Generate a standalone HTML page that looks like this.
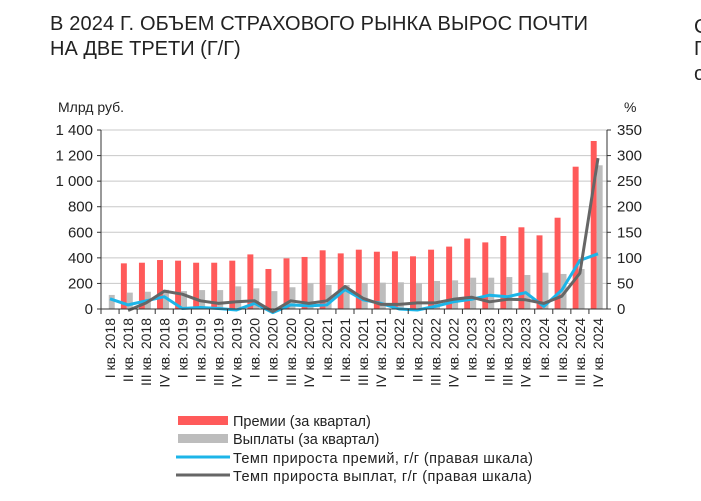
<!DOCTYPE html>
<html><head><meta charset="utf-8">
<style>
body{margin:0;background:#fff;width:701px;height:496px;overflow:hidden;font-family:"Liberation Sans",sans-serif;}
svg text{font-family:"Liberation Sans",sans-serif;fill:#222;}
</style></head>
<body>
<svg id="chart" width="701" height="496" viewBox="0 0 701 496">
<text x="50" y="30" font-size="20" fill="#333" textLength="538">В 2024 Г. ОБЪЕМ СТРАХОВОГО РЫНКА ВЫРОС ПОЧТИ</text>
<text x="50" y="55" font-size="20" fill="#333">НА ДВЕ ТРЕТИ (Г/Г)</text>
<text x="694" y="33" font-size="20" fill="#333">С</text>
<text x="694" y="55" font-size="20" fill="#333">Г</text>
<text x="694" y="80" font-size="20" fill="#333">о</text>
<text x="58" y="112" font-size="14">Млрд руб.</text>
<text x="624" y="112" font-size="14">%</text>
<g id="grid"></g><g id="bars"></g><g id="lines"></g><g id="axes"></g>
<g>
<rect x="178" y="416" width="50" height="9" fill="#ff5a5a"/>
<text x="233" y="426" font-size="14.5">Премии (за квартал)</text>
<rect x="178" y="434" width="50" height="9" fill="#bdbdbd"/>
<text x="233" y="444" font-size="14.5">Выплаты (за квартал)</text>
<line x1="176" y1="457" x2="230" y2="457" stroke="#1cb5e8" stroke-width="3"/>
<text x="233" y="463" font-size="14.5" textLength="300">Темп прироста премий, г/г (правая шкала)</text>
<line x1="176" y1="475" x2="230" y2="475" stroke="#666" stroke-width="3"/>
<text x="233" y="481" font-size="14.5" textLength="299">Темп прироста выплат, г/г (правая шкала)</text>
</g>
</svg>
<script>
const categories=["I кв. 2018","II кв. 2018","III кв. 2018","IV кв. 2018","I кв. 2019","II кв. 2019","III кв. 2019","IV кв. 2019","I кв. 2020","II кв. 2020","III кв. 2020","IV кв. 2020","I кв. 2021","II кв. 2021","III кв. 2021","IV кв. 2021","I кв. 2022","II кв. 2022","III кв. 2022","IV кв. 2022","I кв. 2023","II кв. 2023","III кв. 2023","IV кв. 2023","I кв. 2024","II кв. 2024","III кв. 2024","IV кв. 2024"];
const premiums=[null,357,362,383,378,362,362,378,427,313,396,407,459,435,464,448,451,412,464,488,551,521,571,639,576,714,1113,1314];
const payouts=[110,128,135,150,140,148,148,177,162,140,170,200,188,188,203,206,209,200,219,224,245,245,250,266,284,274,313,1124];
const premiumGrowth=[20,8,16,24,1,3,1,-2,11,-7,8,6,8,38,18,11,0,-2,5,14,19,27,24,32,5,37,95,108];
const payoutGrowth=[null,-3,12,35,29,16,11,14,16,-5,16,11,16,44,21,9,9,12,12,19,23,14,19,18,11,25,70,295];
const leftTicks=[0,200,400,600,800,1000,1200,1400];
const leftTickLabels=["0","200","400","600","800","1 000","1 200","1 400"];
const rightTicks=[0,50,100,150,200,250,300,350];

const NS="http://www.w3.org/2000/svg";
const X0=101,X1=607,Y0=309,Y1=130;
const bw=(X1-X0)/categories.length;
const yL=v=>Y0-(v/1400)*(Y0-Y1);
const yR=v=>Y0-(v/350)*(Y0-Y1);
const xC=i=>X0+(i+0.5)*bw;
function mk(tag,attrs,parent){const e=document.createElementNS(NS,tag);for(const k in attrs)e.setAttribute(k,attrs[k]);parent.appendChild(e);return e;}
const grid=document.getElementById('grid'),bars=document.getElementById('bars'),lines=document.getElementById('lines'),axes=document.getElementById('axes');
leftTicks.forEach((t,i)=>{
  const y=yL(t);
  if(t>0){const g=mk('line',{x1:X0,x2:X1,y1:y,y2:y,stroke:'#c8c8c8','stroke-width':1},grid);
  
  }
  const tx=mk('text',{x:X0-8,y:y+5,'font-size':15,'text-anchor':'end'},axes);tx.textContent=leftTickLabels[i];
  
  
  const tk=mk('line',{x1:X0-4,x2:X0,y1:y,y2:y,stroke:'#333'},axes);
  
  
});
rightTicks.forEach(t=>{
  const y=yR(t);
  const tx=mk('text',{x:X1+10,y:y+5,'font-size':15},axes);tx.textContent=String(t);
  
  
  const tk=mk('line',{x1:X1,x2:X1+4,y1:y,y2:y,stroke:'#333'},axes);
  
  
});
categories.forEach((c,i)=>{
  const x=X0+i*bw;
  if(premiums[i]!=null){const r=mk('rect',{x:x+bw*0.1,y:yL(premiums[i]),width:bw*0.33,height:Y0-yL(premiums[i]),fill:'#ff5a5a'},bars);
  
  }
  if(payouts[i]!=null){const r=mk('rect',{x:x+bw*0.43,y:yL(payouts[i]),width:bw*0.33,height:Y0-yL(payouts[i]),fill:'#bdbdbd'},bars);
  
  }
  const tk=mk('line',{x1:x,x2:x,y1:Y0,y2:Y0+5,stroke:'#333'},axes);
  
  
  const tx=mk('text',{x:0,y:0,'font-size':14,'text-anchor':'end',transform:`translate(${xC(i)+5},${Y0+9}) rotate(-90)`},axes);
  tx.textContent=c;
  
  
});
function line(vals,color,name){
  let d='';vals.forEach((v,i)=>{if(v==null)return;d+=(d?'L':'M')+xC(i).toFixed(1)+','+yR(v).toFixed(1);});
  const p=mk('path',{d:d,fill:'none',stroke:color,'stroke-width':3,'stroke-linejoin':'round'},lines);
  
  
}
line(premiumGrowth,'#1cb5e8','premium-growth-line');
line(payoutGrowth,'#666','payout-growth-line');
const la=mk('line',{x1:X0,x2:X0,y1:Y1,y2:Y0,stroke:'#333'},axes);


const ra=mk('line',{x1:X1,x2:X1,y1:Y1,y2:Y0,stroke:'#333'},axes);


const xa=mk('line',{x1:X0,x2:X1,y1:Y0,y2:Y0,stroke:'#333'},axes);


</script>
</body></html>
